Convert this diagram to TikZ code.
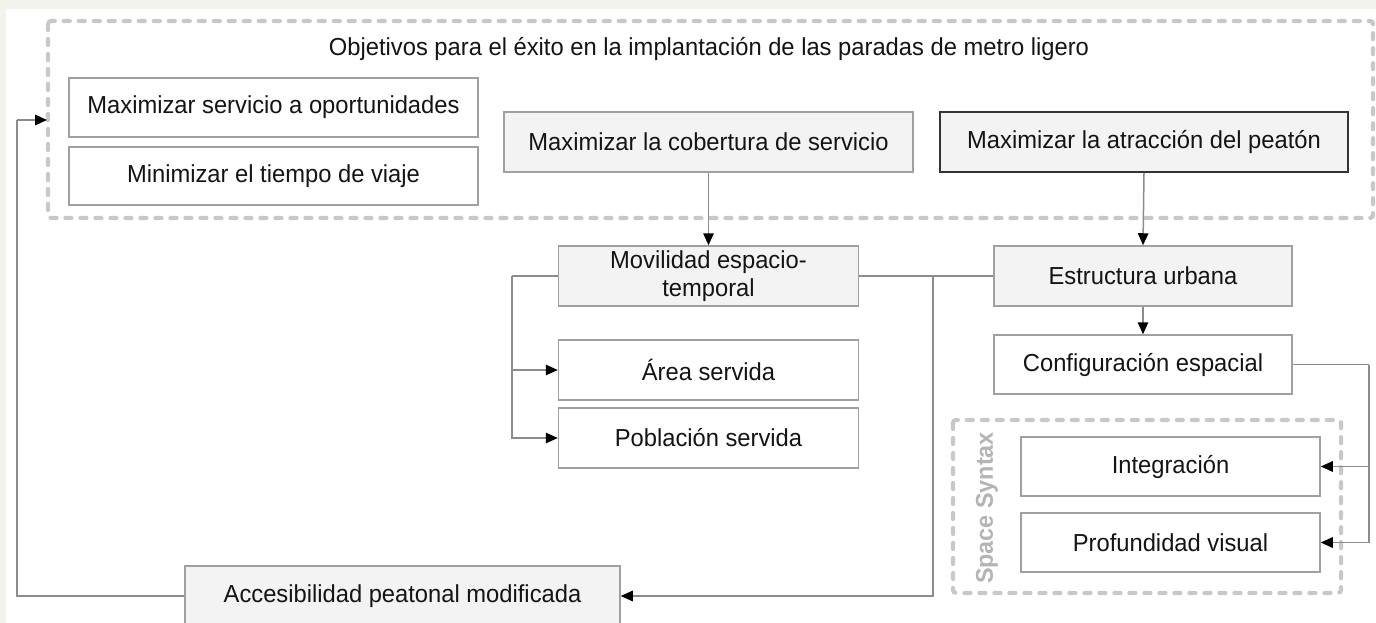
\documentclass[tikz,border=0pt]{standalone}
\usepackage{fontspec}
\setmainfont{Liberation Sans}[FakeStretch=0.965]
\usetikzlibrary{arrows.meta}
\definecolor{bgc}{RGB}{242,243,235}
\definecolor{boxline}{RGB}{160,160,160}
\definecolor{connc}{RGB}{140,140,140}
\definecolor{fillg}{RGB}{243,243,243}
\definecolor{dashg}{RGB}{200,200,200}
\definecolor{ssg}{RGB}{180,180,180}
\definecolor{txt}{RGB}{20,20,20}
\begin{document}
\begin{tikzpicture}[x=1pt,y=-1pt,
  font=\fontsize{24.6}{27.5}\selectfont, text=txt,
  box/.style={draw=boxline, line width=1.5pt, fill=white, inner sep=0pt, align=center, minimum height=59pt},
  gbox/.style={box, fill=fillg},
  conn/.style={draw=connc, line width=1.5pt},
  arr/.style={conn, -{Triangle[length=12pt,width=10.5pt,color=black]}},
  dbox/.style={draw=dashg, line width=4.2pt, line cap=round, dash pattern=on 6pt off 9pt}]
\useasboundingbox (0,0) rectangle (1376,623);
\fill[bgc] (0,0) rectangle (1376,623);
\fill[white] (6,9) rectangle (1376,623);

% containers
\draw[dbox, rounded corners=3pt] (48,21) rectangle (1373,218);
\node[anchor=base] (title) at (709,56) {Objetivos para el éxito en la implantación de las paradas de metro ligero};
\draw[dbox, rounded corners=3pt] (953,420) rectangle (1341,593);
\node[rotate=90, text=ssg, font=\fontsize{24.2}{27}\selectfont\bfseries] (ss) at (987,508) {Space Syntax};

% nodes
\node[box, minimum width=409pt, minimum height=59pt] (b1) at (273.5,107.5) {Maximizar servicio a oportunidades};
\node[box, minimum width=409pt, minimum height=58pt] (b2) at (273.5,176) {Minimizar el tiempo de viaje};
\node[gbox, minimum width=409pt, minimum height=60pt] (b3) at (708.5,142) {Maximizar la cobertura de servicio};
\node[gbox, draw=black!80, minimum width=408pt, minimum height=60pt] (b4) at (1144,142) {Maximizar la atracción del peatón};
\node[gbox, minimum width=300pt, minimum height=60pt] (mov) at (708.5,276) {Movilidad espacio-\\temporal};
\node[box, minimum width=300pt, minimum height=60pt] (area) at (708.5,370) {Área servida};
\node[box, minimum width=300pt, minimum height=60pt] (pob) at (708.5,438) {Población servida};
\node[gbox, minimum width=298pt, minimum height=60pt] (est) at (1143,276) {Estructura urbana};
\node[box, minimum width=298pt, minimum height=59pt] (conf) at (1143,364.5) {Configuración espacial};
\node[box, minimum width=299pt, minimum height=59pt] (integ) at (1170.5,466.5) {Integración};
\node[box, minimum width=299pt, minimum height=59pt] (prof) at (1170.5,542.5) {Profundidad visual};
\node[gbox, minimum width=435pt, minimum height=60pt] (acc) at (402.5,596) {Accesibilidad peatonal modificada};

% coordinates
\coordinate (lb) at (512,276);
\coordinate (jn) at (933,276);
\coordinate (rb) at (1369,364.5);
\coordinate (fbl) at (17,120);
\coordinate (fbt) at (47,120);

% connectors
\draw[arr] (b3.south) -- (mov.north);
\draw[arr] (b4.south) -- (est.north);
\draw[arr] (est.south) -- (conf.north);
\draw[conn] (mov.west) -- (lb);
\draw[arr] (lb) |- (area.west);
\draw[arr] (lb) |- (pob.west);
\draw[conn] (mov.east) -- (est.west);
\draw[arr] (jn) |- (acc.east);
\draw[conn] (conf.east) -- (rb);
\draw[arr] (rb) |- (integ.east);
\draw[arr] (rb) |- (prof.east);
\draw[conn] (acc.west) -| (fbl);
\draw[arr] (fbl) -- (fbt);
\end{tikzpicture}
\end{document}
